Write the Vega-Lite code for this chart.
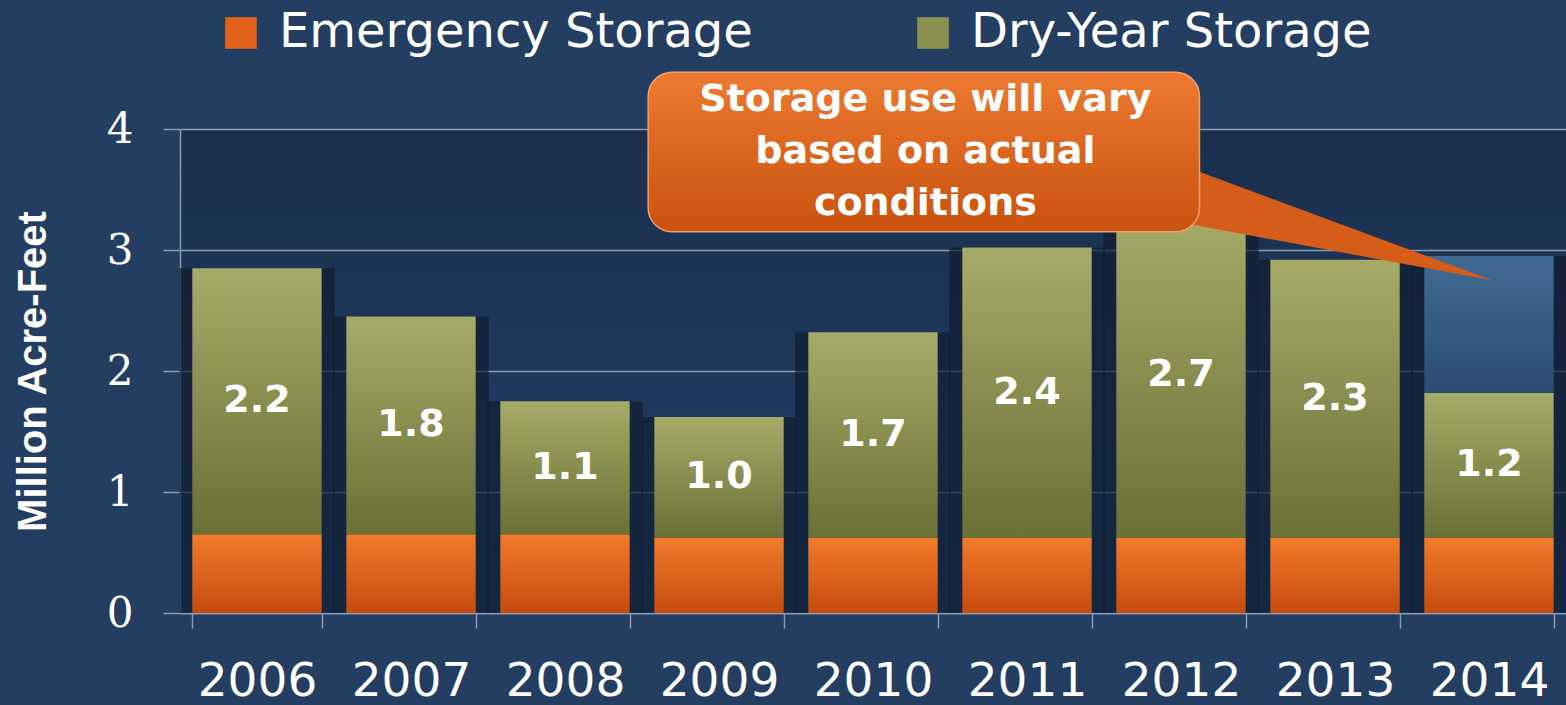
{
  "$schema": "https://vega.github.io/schema/vega-lite/v6.json",
  "width": 1386,
  "height": 484,
  "autosize": "none",
  "padding": {"left": 180, "top": 129, "right": 0, "bottom": 92},
  "background": "#233e61",
  "config": {
    "view": {"stroke": null, "fill": {"gradient": "linear", "x1": 0, "y1": 0, "x2": 0, "y2": 1, "stops": [{"offset": 0, "color": "#1b2f4d"}, {"offset": 1, "color": "#22406a"}]}},
    "font": "DejaVu Sans",
    "axis": {"labelColor": "white", "titleColor": "white", "gridColor": "#8a9cb1", "domainColor": "#8a9cb1", "tickColor": "#8a9cb1"}
  },
  "datasets": {
    "storage": [
      {"year": "2006", "series": "Emergency Storage", "value": 0.65},
      {"year": "2006", "series": "Dry-Year Storage", "value": 2.2},
      {"year": "2007", "series": "Emergency Storage", "value": 0.65},
      {"year": "2007", "series": "Dry-Year Storage", "value": 1.8},
      {"year": "2008", "series": "Emergency Storage", "value": 0.65},
      {"year": "2008", "series": "Dry-Year Storage", "value": 1.1},
      {"year": "2009", "series": "Emergency Storage", "value": 0.62},
      {"year": "2009", "series": "Dry-Year Storage", "value": 1.0},
      {"year": "2010", "series": "Emergency Storage", "value": 0.62},
      {"year": "2010", "series": "Dry-Year Storage", "value": 1.7},
      {"year": "2011", "series": "Emergency Storage", "value": 0.62},
      {"year": "2011", "series": "Dry-Year Storage", "value": 2.4},
      {"year": "2012", "series": "Emergency Storage", "value": 0.62},
      {"year": "2012", "series": "Dry-Year Storage", "value": 2.7},
      {"year": "2013", "series": "Emergency Storage", "value": 0.62},
      {"year": "2013", "series": "Dry-Year Storage", "value": 2.3},
      {"year": "2014", "series": "Emergency Storage", "value": 0.62},
      {"year": "2014", "series": "Dry-Year Storage", "value": 1.2},
      {"year": "2014", "series": "Variable", "value": 1.13}
    ],
    "callout": [
      {"x": 2008.54, "x2": 2012.12, "y": 4.47, "y2": 3.15, "cx": 2010.34, "cy": 4.24, "label": ["Storage use will vary", "based on actual", "conditions"]}
    ],
    "pointer": [
      {"px": 2011.9, "top": 3.75, "bot": 3.25},
      {"px": 2014.02, "top": 2.75, "bot": 2.75}
    ]
  },
  "layer": [
    {
      "data": {"name": "storage"},
      "transform": [
        {"calculate": "indexof(['Emergency Storage','Dry-Year Storage','Variable'], datum.series)", "as": "ord"},
        {"stack": "value", "groupby": ["year"], "sort": [{"field": "ord", "order": "ascending"}], "as": ["y0", "y1"]},
        {"calculate": "(datum.y0 + datum.y1) / 2", "as": "mid"}
      ],
      "encoding": {
        "x": {
          "field": "year", "type": "ordinal",
          "scale": {"paddingInner": 0.16, "paddingOuter": 0.08},
          "axis": {"title": null, "labelFontSize": 47, "labelFont": "DejaVu Sans", "labelAngle": 0, "tickBand": "extent", "tickSize": 15, "labelPadding": 30, "domainWidth": 1.5, "tickWidth": 1.5}
        }
      },
      "layer": [
        {
          "mark": {"type": "bar", "color": "#101c2f", "opacity": 0.7, "xOffset": 13},
          "encoding": {
            "y": {"aggregate": "max", "field": "y1", "type": "quantitative", "scale": {"domain": [0, 4]},
              "axis": {"values": [0, 1, 2, 3, 4], "format": "d", "title": "Million Acre-Feet", "titleFont": "Liberation Sans", "titleFontSize": 40, "titleFontWeight": "bold", "titleX": -147, "titleY": 242, "titleBaseline": "middle", "labelFont": "DejaVu Serif", "labelFontSize": 42, "labelPadding": 30, "tickSize": 17, "gridWidth": 1.5, "domainWidth": 1.5, "tickWidth": 1.5}}
          }
        },
        {
          "mark": {"type": "bar", "color": "#101c2f", "opacity": 0.7, "xOffset": -13},
          "encoding": {
            "y": {"aggregate": "max", "field": "y1", "type": "quantitative"}
          }
        },
        {
          "transform": [{"filter": "datum.series === 'Emergency Storage'"}],
          "mark": {"type": "bar", "color": {"gradient": "linear", "x1": 0, "y1": 0, "x2": 0, "y2": 1, "stops": [{"offset": 0, "color": "#f27b2c"}, {"offset": 1, "color": "#c64c0d"}]}},
          "encoding": {"y": {"field": "y1", "type": "quantitative"}, "y2": {"field": "y0"}}
        },
        {
          "transform": [{"filter": "datum.series === 'Dry-Year Storage'"}],
          "mark": {"type": "bar", "color": {"gradient": "linear", "x1": 0, "y1": 0, "x2": 0, "y2": 1, "stops": [{"offset": 0, "color": "#a7ab68"}, {"offset": 1, "color": "#6a7036"}]}},
          "encoding": {"y": {"field": "y1", "type": "quantitative"}, "y2": {"field": "y0"}}
        },
        {
          "transform": [{"filter": "datum.series === 'Variable'"}],
          "mark": {"type": "bar", "color": {"gradient": "linear", "x1": 0, "y1": 0, "x2": 0, "y2": 1, "stops": [{"offset": 0, "color": "#426b93"}, {"offset": 1, "color": "#2b4c72"}]}},
          "encoding": {"y": {"field": "y1", "type": "quantitative"}, "y2": {"field": "y0"}}
        },
        {
          "transform": [{"filter": "datum.series === 'Dry-Year Storage'"}],
          "mark": {"type": "text", "color": "white", "font": "DejaVu Sans", "fontSize": 38, "fontWeight": "bold", "baseline": "middle"},
          "encoding": {
            "y": {"field": "mid", "type": "quantitative"},
            "text": {"field": "value", "type": "quantitative", "format": ".1f"}
          }
        },
        {
          "transform": [{"filter": "datum.series !== 'Variable'"}],
          "mark": {"type": "square", "opacity": 0},
          "encoding": {
            "y": {"field": "y1", "type": "quantitative"},
            "color": {
              "field": "series", "type": "nominal",
              "scale": {"domain": ["Emergency Storage", "Dry-Year Storage"], "range": ["#e2621b", "#8a9150"]},
              "legend": {"title": null, "orient": "none", "direction": "horizontal", "legendX": 37, "legendY": -120, "symbolType": "square", "symbolSize": 1000, "symbolOpacity": 1, "symbolStrokeWidth": 0, "labelFontSize": 48, "labelColor": "white", "labelFont": "DejaVu Sans", "labelOffset": 14, "labelLimit": 800, "columnPadding": 156}
            }
          }
        }
      ]
    },
    {
      "layer": [
        {
          "data": {"name": "pointer"},
          "mark": {"type": "area", "color": "#d65c1a"},
          "encoding": {
            "x": {"field": "px", "type": "quantitative", "scale": {"domain": [2005.5, 2014.5], "nice": false, "zero": false}, "axis": null},
            "y": {"field": "top", "type": "quantitative"},
            "y2": {"field": "bot"}
          }
        },
        {
          "data": {"name": "callout"},
          "mark": {"type": "rect", "cornerRadius": 24, "color": {"gradient": "linear", "x1": 0, "y1": 0, "x2": 0, "y2": 1, "stops": [{"offset": 0, "color": "#ec7a30"}, {"offset": 1, "color": "#c9520f"}]}, "stroke": "#f0a070", "strokeWidth": 1.5},
          "encoding": {
            "x": {"field": "x", "type": "quantitative"},
            "x2": {"field": "x2"},
            "y": {"field": "y", "type": "quantitative"},
            "y2": {"field": "y2"}
          }
        },
        {
          "data": {"name": "callout"},
          "mark": {"type": "text", "color": "white", "font": "DejaVu Sans", "fontSize": 38, "fontWeight": "bold", "lineHeight": 52, "align": "center", "baseline": "middle"},
          "encoding": {
            "x": {"field": "cx", "type": "quantitative"},
            "y": {"field": "cy", "type": "quantitative"},
            "text": {"field": "label"}
          }
        }
      ]
    }
  ],
  "resolve": {"scale": {"x": "independent"}}
}
